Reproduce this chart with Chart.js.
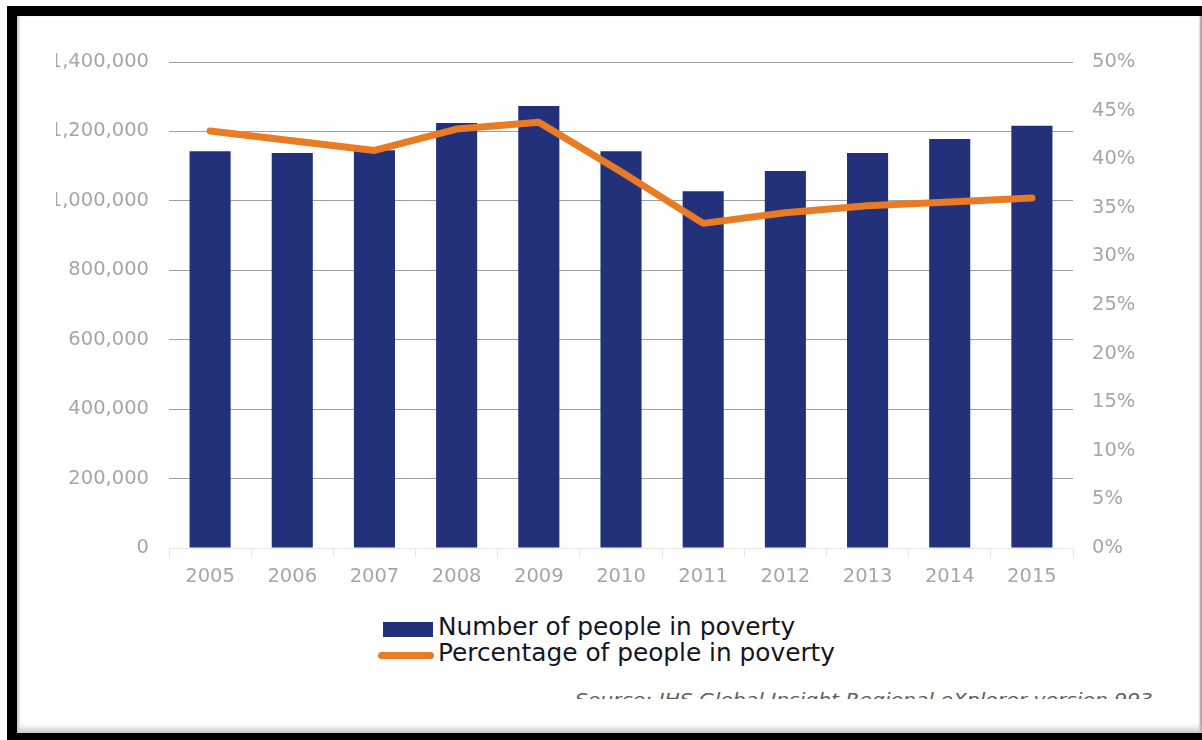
<!DOCTYPE html>
<html>
<head>
<meta charset="utf-8">
<script src="https://cdn.jsdelivr.net/npm/chart.js@4/dist/chart.umd.min.js"></script>
<style>
  html, body { margin: 0; padding: 0; background: #fff; width: 1202px; height: 740px; overflow: hidden; }
  .frame { position: absolute; left: 7px; top: 6px; width: 1195px; height: 734px; background: #000; }
  .panel {
    position: absolute; left: 17px; top: 16px; width: 1185px; height: 717px; background: #fff;
    box-shadow: inset 3px 0 3px -1px #c8c8c8, inset 0 -7px 6px -3px #c4c4c4, inset -5px 0 2px -3px #9a9a9a;
  }
  .clip { position: absolute; left: 56px; top: 0; width: 1146px; height: 610px; overflow: hidden; }
  .chart-box { position: absolute; left: -56px; top: 20px; width: 1160px; height: 580px; }
  .legend { position: absolute; left: 378px; top: 614px; font-family: "DejaVu Sans", sans-serif; font-size: 24.8px; color: #151522; }
  .legend .item { position: relative; height: 26px; line-height: 26px; padding-left: 60px; white-space: nowrap; }
  .legend .swatch { position: absolute; }
  .source { position: absolute; left: 575px; top: 689px; width: 600px; height: 10px; overflow: hidden; }
  .source span { display: inline-block; margin-top: 1px; font-family: "DejaVu Sans", sans-serif; font-style: italic; font-size: 17px; color: #5e5e5e; white-space: nowrap; transform-origin: 0 0; }
</style>
</head>
<body>
<div class="frame"></div>
<div class="panel"></div>
<div class="clip"><div class="chart-box"><canvas id="povertyChart"></canvas></div></div>
<div class="legend" id="legend"></div>
<div class="source"><span id="sourceText">Source: IHS Global Insight Regional eXplorer version 993</span></div>

<script>
// dados
const years = ['2005', '2006', '2007', '2008', '2009', '2010', '2011', '2012', '2013', '2014', '2015'];
const peopleInPoverty = [1143000, 1138000, 1146000, 1224000, 1273000, 1143000, 1028000, 1086000, 1138000, 1178000, 1216000];
const povertyPct = [42.9, 41.9, 40.9, 43.1, 43.8, 38.7, 33.4, 34.5, 35.2, 35.6, 36.0];

const leftMax = 1400000, leftStep = 200000;
const rightMax = 50, rightStep = 5;

const navy = '#22317a';
const orange = '#e87b24';
const tickGrey = '#a6a6a6';

Chart.defaults.font.family = '"DejaVu Sans", sans-serif';
Chart.defaults.font.size = 19.5;
Chart.defaults.color = tickGrey;

const ctx = document.getElementById('povertyChart').getContext('2d');
const chart = new Chart(ctx, {
    data: {
        labels: years,
        datasets: [
            {
                type: 'line',
                label: 'Percentage of people in poverty',
                data: povertyPct,
                yAxisID: 'y1',
                borderColor: orange,
                backgroundColor: orange,
                borderWidth: 7,
                borderCapStyle: 'round',
                borderJoinStyle: 'round',
                pointRadius: 0,
                tension: 0,
                order: 0
            },
            {
                type: 'bar',
                label: 'Number of people in poverty',
                data: peopleInPoverty,
                yAxisID: 'y',
                backgroundColor: navy,
                categoryPercentage: 1,
                barPercentage: 0.5,
                order: 1
            }
        ]
    },
    options: {
        responsive: true,
        maintainAspectRatio: false,
        animation: false,
        layout: { padding: { top: 42, left: 0, right: 0, bottom: 0 } },
        plugins: { legend: { display: false }, tooltip: { enabled: false } },
        scales: {
            x: {
                offset: true,
                border: { display: true, color: '#e4e4e4', width: 1 },
                grid: { offset: true, drawOnChartArea: false, drawTicks: true, tickLength: 9, color: '#e4e4e4' },
                ticks: { padding: 8, color: tickGrey, maxRotation: 0 },
                afterFit: s => { s.height = 52; }
            },
            y: {
                position: 'left',
                min: 0,
                max: leftMax,
                border: { display: false },
                grid: {
                    drawTicks: false,
                    color: c => c.tick.value === 0 ? 'rgba(0,0,0,0)' : '#a0a0a0',
                    lineWidth: 1
                },
                ticks: {
                    stepSize: leftStep,
                    padding: 20,
                    callback: v => v.toLocaleString('en-US')
                },
                afterFit: s => { s.width = 169; }
            },
            y1: {
                position: 'right',
                min: 0,
                max: rightMax,
                border: { display: false },
                grid: { drawOnChartArea: false, drawTicks: false },
                ticks: {
                    stepSize: rightStep,
                    padding: 19,
                    callback: v => v + '%'
                },
                afterFit: s => { s.width = 1160 - 1073; }
            }
        }
    }
});

// legenda vertical (barra em cima, linha em baixo)
const legendEl = document.getElementById('legend');
['Number of people in poverty', 'Percentage of people in poverty'].forEach(lbl => {
    const ds = chart.data.datasets.find(d => d.label === lbl);
    const item = document.createElement('div');
    item.className = 'item';
    const sw = document.createElement('span');
    sw.className = 'swatch';
    if (ds.type === 'bar') {
        Object.assign(sw.style, { left: '5px', top: '8px', width: '50px', height: '15px', background: ds.backgroundColor });
    } else {
        Object.assign(sw.style, { left: '0px', top: '12px', width: '56px', height: '7px', borderRadius: '4px', background: ds.borderColor });
    }
    item.appendChild(sw);
    item.appendChild(document.createTextNode(ds.label));
    legendEl.appendChild(item);
});

// ajusta largura do texto da fonte
const src = document.getElementById('sourceText');
const w = src.getBoundingClientRect().width;
src.style.transform = `scaleX(${578 / w})`;
</script>
</body>
</html>
